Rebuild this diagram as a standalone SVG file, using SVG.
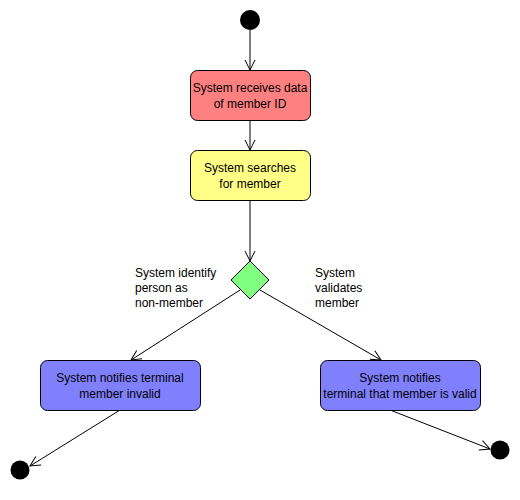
<svg xmlns="http://www.w3.org/2000/svg" width="520" height="500" viewBox="0 0 520 500">
<style>
.n{stroke:#000;stroke-width:1}
.t{font-family:"Liberation Sans",Arial,sans-serif;font-size:12px;fill:#000;text-anchor:middle}
.l{font-family:"Liberation Sans",Arial,sans-serif;font-size:12px;fill:#000}
.c{fill:none;stroke:#000;stroke-width:1}
</style>
<defs>
<marker id="a" viewBox="0 0 12 12" refX="11" refY="6" markerWidth="12" markerHeight="12" markerUnits="userSpaceOnUse" orient="auto">
<path d="M1,1 L11,6 L1,11" fill="none" stroke="#000" stroke-width="1"/>
</marker>
</defs>
<g id="connectors">
<path class="c" d="M250,30 L250,70" marker-end="url(#a)"/>
<path class="c" d="M250,120 L250,150" marker-end="url(#a)"/>
<path class="c" d="M250,200 L250,261" marker-end="url(#a)"/>
<path class="c" d="M240,290 L131,360" marker-end="url(#a)"/>
<path class="c" d="M260,290 L381,360" marker-end="url(#a)"/>
<path class="c" d="M120,410 L30,466" marker-end="url(#a)"/>
<path class="c" d="M390,410 L490,449" marker-end="url(#a)"/>
</g>
<g id="start"><circle cx="250" cy="20" r="10" fill="#000"/></g>
<g id="receive">
<rect class="n" x="190.5" y="70.5" width="120" height="50" rx="7" fill="#FF8080"/>
<text class="t" x="250" y="92">System receives data</text>
<text class="t" x="250" y="108">of member ID</text>
</g>
<g id="search">
<rect class="n" x="190.5" y="150.5" width="120" height="50" rx="7" fill="#FFFF88"/>
<text class="t" x="250" y="172">System searches</text>
<text class="t" x="250" y="188">for member</text>
</g>
<g id="decision">
<path class="n" d="M250,261 L269,280 L250,299 L231,280 Z" fill="#80FF80"/>
</g>
<g id="labels">
<text class="l" x="135" y="277">System identify</text>
<text class="l" x="135" y="292">person as</text>
<text class="l" x="135" y="307">non-member</text>
<text class="l" x="315" y="277">System</text>
<text class="l" x="315" y="292">validates</text>
<text class="l" x="315" y="307">member</text>
</g>
<g id="invalid">
<rect class="n" x="40.5" y="360.5" width="160" height="50" rx="7" fill="#8080FF"/>
<text class="t" x="120" y="382">System notifies terminal</text>
<text class="t" x="120" y="398">member invalid</text>
</g>
<g id="valid">
<rect class="n" x="320.5" y="360.5" width="160" height="50" rx="7" fill="#8080FF"/>
<text class="t" x="400" y="382">System notifies</text>
<text class="t" x="400" y="398">terminal that member is valid</text>
</g>
<g id="end1"><circle cx="20" cy="470" r="9.5" fill="#000"/></g>
<g id="end2"><circle cx="500" cy="450" r="9.5" fill="#000"/></g>
</svg>
